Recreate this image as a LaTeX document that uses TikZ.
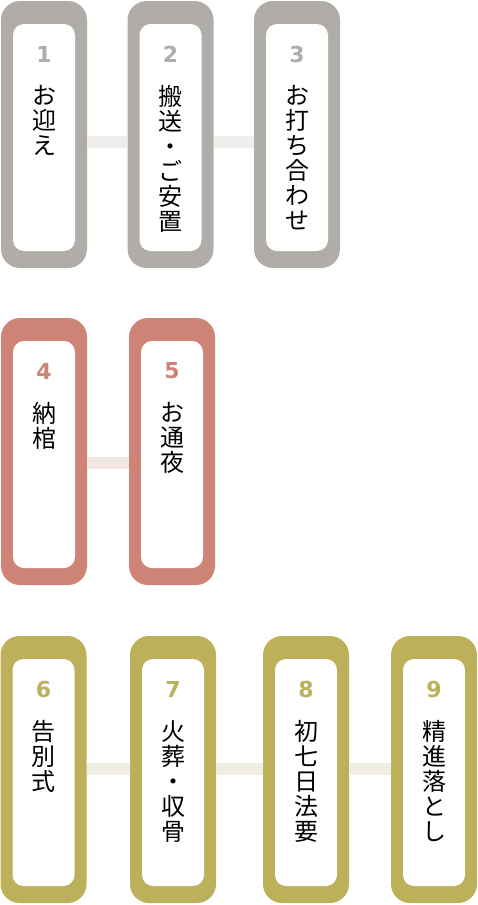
\documentclass[tikz,border=0pt]{standalone}
\usepackage{fontspec}
\newfontfamily\jpfont{Noto Sans CJK JP}
\newfontfamily\numfont{DejaVu Sans}
\definecolor{cgray}{HTML}{B0ADA8}
\definecolor{cred}{HTML}{CD8476}
\definecolor{colive}{HTML}{BCB05B}
\definecolor{lgray}{HTML}{EFEEEC}
\definecolor{lred}{HTML}{F4E6E3}
\definecolor{lolive}{HTML}{F0EEE0}
\tikzset{
  outerbox/.style={fill=#1, draw=none, minimum width=86pt, minimum height=267pt, rounded corners=19pt, inner sep=0pt},
  innerbox/.style={fill=white, draw=none, minimum width=62pt, minimum height=227pt, rounded corners=11pt, inner sep=0pt},
  numlabel/.style={text=#1, font=\numfont\bfseries\fontsize{22pt}{22pt}\selectfont, inner sep=0pt},
  vtext/.style={font=\jpfont\fontsize{24pt}{25pt}\selectfont, align=center, inner sep=0pt, anchor=north, text=black},
  conn/.style={draw=#1, line width=12pt}
}
\newcommand\flowbox[6]{%
  \node[outerbox=#4] (o#1) at (#2,#3+133.5) {};
  \node[innerbox] (i#1) at (#2,#3+136.5) {};
  \node[numlabel=#4] (n#1) at (#2,#3+53) {#5};
  \node[vtext] (t#1) at (#2,#3+84) {#6};
}
\begin{document}
\begin{tikzpicture}[x=1pt,y=-1pt]
\useasboundingbox (0,0) rectangle (478,905);
% row 1
\flowbox{1}{44}{1}{cgray}{1}{お\\迎\\え}
\flowbox{2}{170.5}{1}{cgray}{2}{搬\\送\\・\\ご\\安\\置}
\flowbox{3}{297}{1}{cgray}{3}{お\\打\\ち\\合\\わ\\せ}
\draw[conn=lgray] ([yshift=-7pt]o1.east) -- ([yshift=-7pt]o2.west);
\draw[conn=lgray] ([yshift=-7pt]o2.east) -- ([yshift=-7pt]o3.west);
% row 2
\flowbox{4}{44}{318}{cred}{4}{納\\棺}
\flowbox{5}{172}{318}{cred}{5}{お\\通\\夜}
\draw[conn=lred] ([yshift=-11pt]o4.east) -- ([yshift=-11pt]o5.west);
% row 3
\flowbox{6}{43.5}{636}{colive}{6}{告\\別\\式}
\flowbox{7}{173}{636}{colive}{7}{火\\葬\\・\\収\\骨}
\flowbox{8}{306}{636}{colive}{8}{初\\七\\日\\法\\要}
\flowbox{9}{434}{636}{colive}{9}{精\\進\\落\\と\\し}
\draw[conn=lolive] ([yshift=1pt]o6.east) -- ([yshift=1pt]o7.west);
\draw[conn=lolive] ([yshift=1pt]o7.east) -- ([yshift=1pt]o8.west);
\draw[conn=lolive] ([yshift=1pt]o8.east) -- ([yshift=1pt]o9.west);
\end{tikzpicture}
\end{document}
